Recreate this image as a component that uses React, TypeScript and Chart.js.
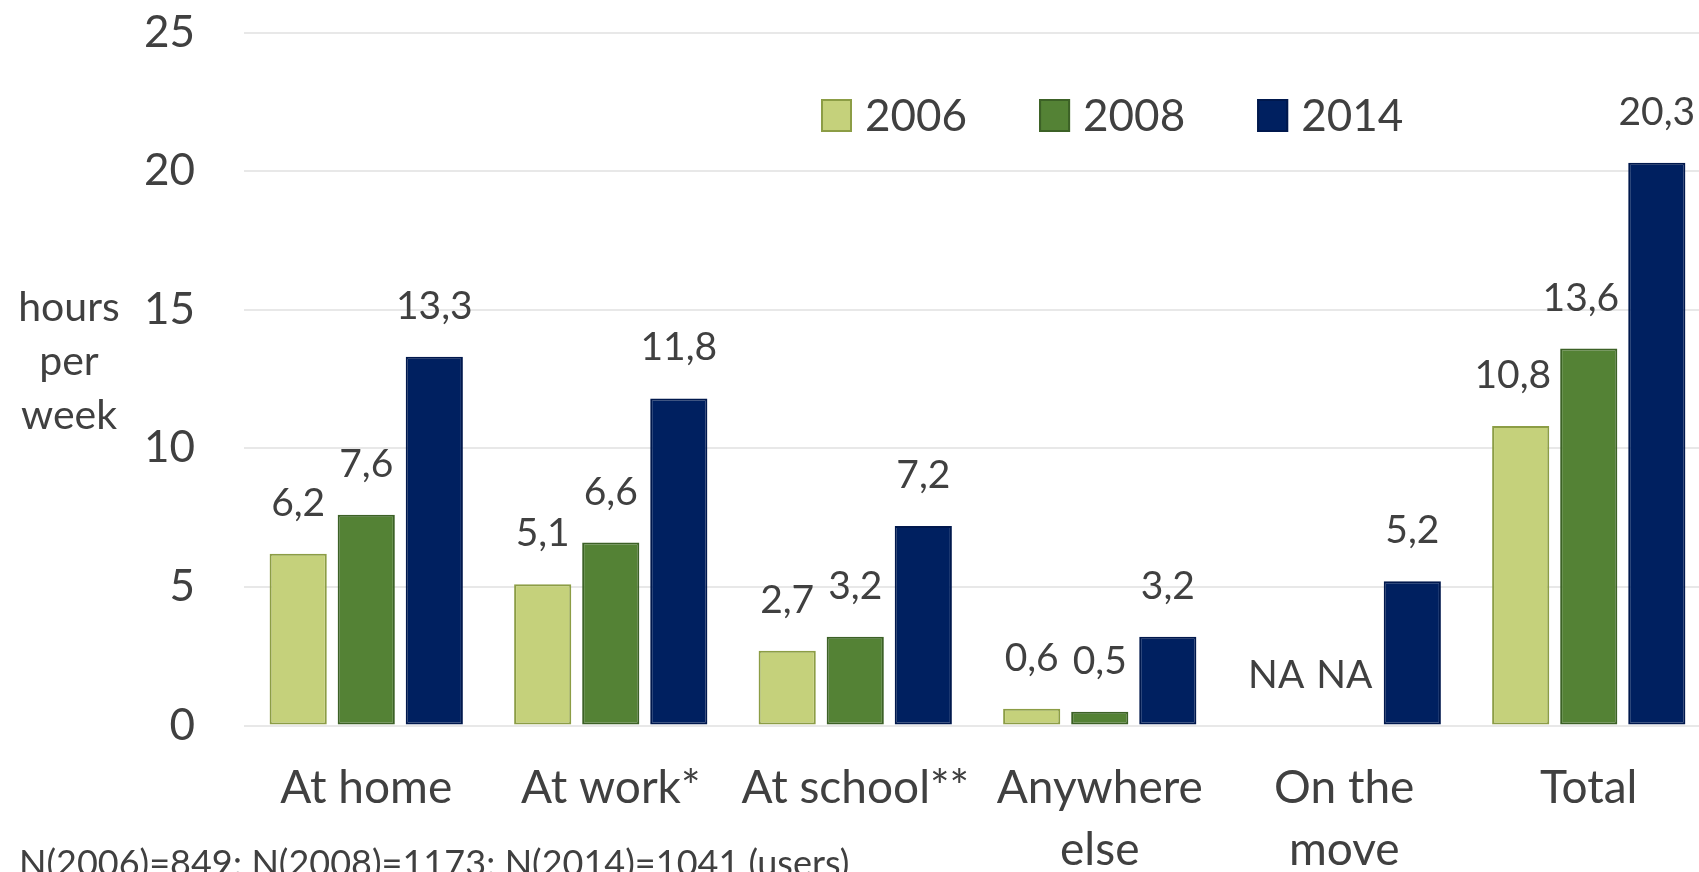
import { useEffect, useRef } from 'react';
import { Chart, registerables } from 'chart.js';

Chart.register(...registerables);

// ---------- data ----------
const categories: string[][] = [
  ['At home'],
  ['At work*'],
  ['At school**'],
  ['Anywhere', 'else'],
  ['On the', 'move'],
  ['Total'],
];
const seriesNames = ['2006', '2008', '2014'];
const values2006: (number | null)[] = [6.2, 5.1, 2.7, 0.6, null, 10.8];
const values2008: (number | null)[] = [7.6, 6.6, 3.2, 0.5, null, 13.6];
const values2014: (number | null)[] = [13.3, 11.8, 7.2, 3.2, 5.2, 20.3];
const yTicks = [0, 5, 10, 15, 20, 25];
const yTitleLines = ['hours', 'per', 'week'];
const footnote = 'N(2006)=849; N(2008)=1173; N(2014)=1041 (users)';
const missingLabel = 'NA';

// ---------- styles ----------
const FONT = 'Lato, "Open Sans", sans-serif';
const TEXT = '#404040';
const fills = ['#c5d17b', '#548235', '#002060'];
const borders = ['#8c9d45', '#3c6126', '#00184d'];

const fmt = (v: number) => v.toFixed(1).replace('.', ',');

const annotate = {
  id: 'annotate',
  afterDatasetsDraw(chart: any) {
    const { ctx } = chart;
    const ys = chart.scales.y;
    const nDs = chart.data.datasets.length;
    ctx.save();
    ctx.fillStyle = TEXT;
    ctx.font = `39px ${FONT}`;
    ctx.textAlign = 'center';
    ctx.textBaseline = 'alphabetic';
    chart.data.datasets.forEach((ds: any, di: number) => {
      const meta = chart.getDatasetMeta(di);
      meta.data.forEach((bar: any, i: number) => {
        const v = ds.data[i];
        const top = ys.getPixelForValue(v == null ? 0 : v);
        const text = v == null ? missingLabel : fmt(v);
        const baseline = top - 38;
        let cx = bar.x;
        // nudge left when the label would touch the next (taller) bar
        if (di < nDs - 1) {
          const nv = chart.data.datasets[di + 1].data[i];
          const nb: any = chart.getDatasetMeta(di + 1).data[i];
          if (nv != null && nb) {
            const nTop = ys.getPixelForValue(nv);
            const nLeft = nb.x - nb.width / 2;
            const w = ctx.measureText(text).width;
            const gap = nLeft - (cx + w / 2);
            if (nTop < baseline && gap < 9) cx -= 9 - gap;
          }
        }
        ctx.fillText(text, cx, baseline);
      });
    });
    ctx.restore();
  },
  afterDraw(chart: any) {
    const { ctx } = chart;
    ctx.save();
    // legend
    ctx.font = `44px ${FONT}`;
    ctx.textBaseline = 'alphabetic';
    ctx.textAlign = 'left';
    let x = 821;
    chart.data.datasets.forEach((ds: any) => {
      ctx.fillStyle = ds.backgroundColor;
      ctx.strokeStyle = ds.borderColor;
      ctx.lineWidth = 2;
      ctx.fillRect(x, 99, 31, 33);
      ctx.strokeRect(x + 1, 100, 29, 31);
      ctx.fillStyle = TEXT;
      const tx = x + 31 + 13;
      ctx.fillText(ds.label, tx, 131);
      x = tx + ctx.measureText(ds.label).width + 72;
    });
    // y title
    ctx.font = `41px ${FONT}`;
    ctx.textAlign = 'center';
    yTitleLines.forEach((line, i) => {
      ctx.fillText(line, 69, 321 + i * 54);
    });
    // footnote
    ctx.font = `36px ${FONT}`;
    ctx.textAlign = 'left';
    ctx.fillText(footnote, 19, 876);
    ctx.restore();
  },
};

export default function App() {
  const ref = useRef<HTMLCanvasElement | null>(null);

  useEffect(() => {
    if (!ref.current) return;
    const series = [values2006, values2008, values2014];
    const chart = new Chart(ref.current, {
      type: 'bar',
      data: {
        labels: categories,
        datasets: series.map((d, i) => ({
          label: seriesNames[i],
          data: d,
          backgroundColor: fills[i],
          borderColor: borders[i],
          borderWidth: 2,
          borderSkipped: false,
          categoryPercentage: 0.835,
          barPercentage: 0.84,
        })),
      },
      options: {
        animation: false,
        responsive: true,
        maintainAspectRatio: false,
        devicePixelRatio: 1,
        layout: { padding: { top: 32.5, right: 0, bottom: 0, left: 0 } },
        plugins: {
          legend: { display: false },
          tooltip: { enabled: false },
          title: { display: false },
        },
        scales: {
          x: {
            grid: { display: false, drawTicks: false },
            border: { display: false },
            ticks: {
              color: TEXT,
              font: { family: FONT, size: 46, lineHeight: 1.35 },
              padding: 32,
              maxRotation: 0,
              autoSkip: false,
            },
            afterFit: (axis: any) => {
              axis.height = 146.5;
            },
          },
          y: {
            min: 0,
            max: 25,
            grid: {
              color: '#e8e8e8',
              lineWidth: 2,
              drawTicks: true,
              tickLength: 49,
              tickColor: 'rgba(0,0,0,0)',
            },
            border: { display: false },
            ticks: {
              color: TEXT,
              font: { family: FONT, size: 44 },
              padding: 0,
            },
            afterBuildTicks: (axis: any) => {
              axis.ticks = yTicks.map((v) => ({ value: v }));
            },
            afterFit: (axis: any) => {
              axis.width = 244;
            },
          },
        },
      },
      plugins: [annotate],
    });
    return () => chart.destroy();
  }, []);

  return (
    <div style={{ position: 'fixed', left: 0, top: 0, width: 1711, height: 872, background: '#ffffff' }}>
      <canvas ref={ref} />
    </div>
  );
}
